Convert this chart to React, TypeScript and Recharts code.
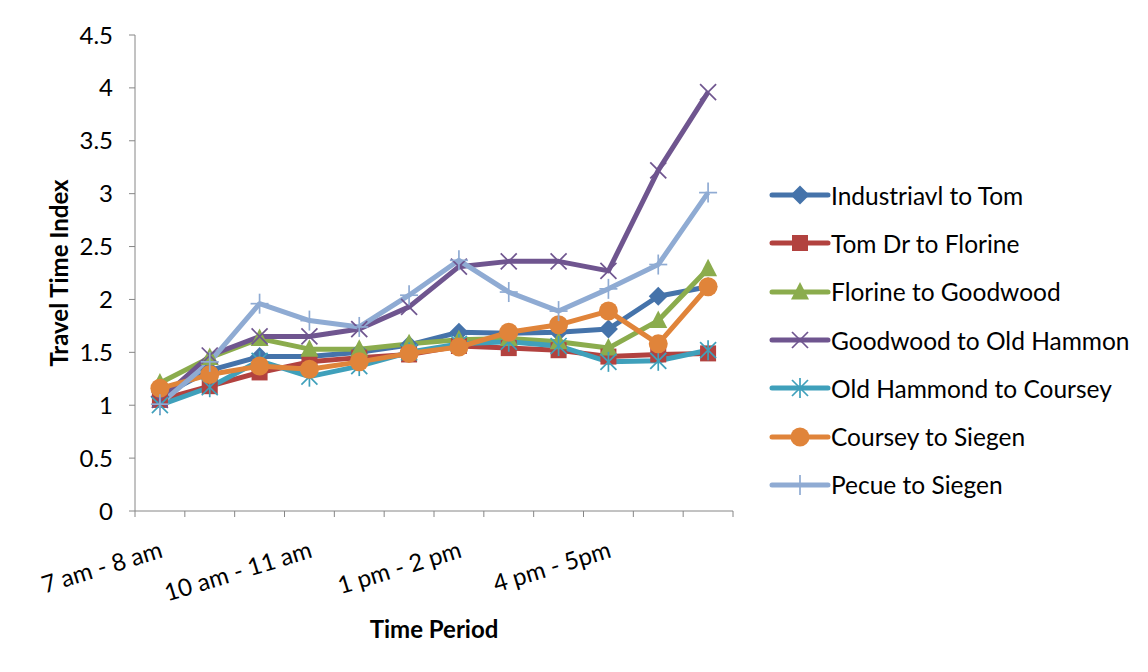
import React from "react";
import { LineChart, Line, XAxis, YAxis, Legend, Label } from "recharts";

// Data
const periods = [
  "7 am - 8 am",
  "8 am - 9 am",
  "9 am - 10 am",
  "10 am - 11 am",
  "11 am - 12 pm",
  "12 pm - 1 pm",
  "1 pm - 2 pm",
  "2 pm - 3 pm",
  "3 pm - 4 pm",
  "4 pm - 5pm",
  "5 pm - 6 pm",
  "6 pm - 7 pm",
];

const industriavlToTom = [1.08, 1.33, 1.46, 1.46, 1.5, 1.57, 1.69, 1.68, 1.69, 1.72, 2.03, 2.12];
const tomDrToFlorine = [1.05, 1.18, 1.31, 1.41, 1.45, 1.48, 1.56, 1.54, 1.52, 1.46, 1.48, 1.49];
const florineToGoodwood = [1.21, 1.45, 1.63, 1.53, 1.53, 1.58, 1.62, 1.63, 1.6, 1.54, 1.8, 2.29];
const goodwoodToOldHammon = [1.05, 1.47, 1.65, 1.65, 1.72, 1.93, 2.31, 2.36, 2.36, 2.27, 3.22, 3.96];
const oldHammondToCoursey = [1.0, 1.17, 1.42, 1.27, 1.37, 1.5, 1.58, 1.6, 1.56, 1.41, 1.42, 1.52];
const courseyToSiegen = [1.16, 1.29, 1.37, 1.34, 1.41, 1.49, 1.55, 1.69, 1.76, 1.89, 1.58, 2.12];
const pecueToSiegen = [1.01, 1.41, 1.96, 1.8, 1.74, 2.04, 2.37, 2.07, 1.89, 2.1, 2.33, 3.01];

const yTicks = [0, 0.5, 1, 1.5, 2, 2.5, 3, 3.5, 4, 4.5];

type Shape = "diamond" | "square" | "triangle" | "x" | "star" | "circle" | "plus";

const SERIES: { key: string; name: string; color: string; shape: Shape; values: number[] }[] = [
  { key: "s1", name: "Industriavl to Tom", color: "#4573AA", shape: "diamond", values: industriavlToTom },
  { key: "s2", name: "Tom Dr to Florine", color: "#B2423F", shape: "square", values: tomDrToFlorine },
  { key: "s3", name: "Florine to Goodwood", color: "#8BAC4D", shape: "triangle", values: florineToGoodwood },
  { key: "s4", name: "Goodwood to Old Hammon", color: "#6F558F", shape: "x", values: goodwoodToOldHammon },
  { key: "s5", name: "Old Hammond to Coursey", color: "#3FA0BB", shape: "star", values: oldHammondToCoursey },
  { key: "s6", name: "Coursey to Siegen", color: "#E0843A", shape: "circle", values: courseyToSiegen },
  { key: "s7", name: "Pecue to Siegen", color: "#8FABD3", shape: "plus", values: pecueToSiegen },
];

const data = periods.map((period, i) => {
  const row: Record<string, string | number> = { period };
  SERIES.forEach((s) => (row[s.key] = s.values[i]));
  return row;
});

const FONT = "Lato, 'Open Sans', sans-serif";
const AXIS_GREY = "#868686";
const CHART_W = 1132;
const CHART_H = 656;
const MARGIN = { top: 27, right: 407, bottom: 23, left: 0 };
const Y_AXIS_W = 127;
const BAND = (CHART_W - MARGIN.right - MARGIN.left - Y_AXIS_W) / periods.length;

const Marker = ({ shape, color, cx, cy }: { shape: Shape; color: string; cx: number; cy: number }) => {
  const h = 8;
  switch (shape) {
    case "diamond":
      return <polygon points={`${cx},${cy - 9.5} ${cx + 9.5},${cy} ${cx},${cy + 9.5} ${cx - 9.5},${cy}`} fill={color} />;
    case "square":
      return <rect x={cx - 8} y={cy - 8} width={16} height={16} fill={color} />;
    case "triangle":
      return <polygon points={`${cx},${cy - 10} ${cx + 9},${cy + 7.5} ${cx - 9},${cy + 7.5}`} fill={color} />;
    case "circle":
      return <circle cx={cx} cy={cy} r={9.5} fill={color} />;
    case "x":
      return (
        <g stroke={color} strokeWidth={1.7}>
          <line x1={cx - h} y1={cy - h} x2={cx + h} y2={cy + h} />
          <line x1={cx - h} y1={cy + h} x2={cx + h} y2={cy - h} />
        </g>
      );
    case "star":
      return (
        <g stroke={color} strokeWidth={1.7}>
          <line x1={cx - h} y1={cy - h} x2={cx + h} y2={cy + h} />
          <line x1={cx - h} y1={cy + h} x2={cx + h} y2={cy - h} />
          <line x1={cx} y1={cy - 10} x2={cx} y2={cy + 10} />
        </g>
      );
    case "plus":
    default:
      return (
        <g stroke={color} strokeWidth={1.7}>
          <line x1={cx - 9} y1={cy} x2={cx + 9} y2={cy} />
          <line x1={cx} y1={cy - 10} x2={cx} y2={cy + 10} />
        </g>
      );
  }
};

const TimeTick = (props: any) => {
  const { x, y, payload } = props;
  const idx = payload?.index ?? props.index ?? 0;
  const half = BAND / 2;
  const tx = x + 4;
  const ty = y + 46;
  return (
    <g>
      <line x1={x - half} x2={x - half} y1={y} y2={y + 6} stroke={AXIS_GREY} />
      {idx === periods.length - 1 && (
        <line x1={x + half} x2={x + half} y1={y} y2={y + 6} stroke={AXIS_GREY} />
      )}
      {idx % 3 === 0 && (
        <text
          x={tx}
          y={ty}
          transform={`rotate(-17, ${tx}, ${ty})`}
          textAnchor="end"
          fill="#000"
          fontSize={24}
          fontFamily={FONT}
        >
          {payload.value}
        </text>
      )}
    </g>
  );
};

const YTitle = (props: any) => {
  const vb = props.viewBox || { x: 0, y: 0, height: 0 };
  const cx = vb.x + 50;
  const cy = vb.y + vb.height / 2;
  return (
    <text
      x={cx}
      y={cy}
      transform={`rotate(-90, ${cx}, ${cy})`}
      textAnchor="middle"
      dominantBaseline="central"
      fontFamily={FONT}
      fontWeight="bold"
      fontSize={24}
      fill="#000"
    >
      Travel Time Index
    </text>
  );
};

const LegendList = (props: any) => {
  const payload: any[] = props.payload || [];
  const entries = SERIES.filter((s) => payload.some((p) => p.dataKey === s.key));
  return (
    <div style={{ fontFamily: FONT, fontSize: 24.5, color: "#000" }}>
      {entries.map((s) => (
        <div key={s.key} style={{ display: "flex", alignItems: "center", height: 48.3 }}>
          <svg width={62} height={24} style={{ flex: "none" }}>
            <line x1={3} x2={59} y1={12} y2={12} stroke={s.color} strokeWidth={5} strokeLinecap="round" />
            <Marker shape={s.shape} color={s.color} cx={31} cy={12} />
          </svg>
          <span style={{ whiteSpace: "nowrap" }}>{s.name}</span>
        </div>
      ))}
    </div>
  );
};

export default function App() {
  return (
    <div
      style={{
        marginLeft: -1,
        marginTop: -1,
        borderLeft: "1px solid #8a8a8a",
        borderTop: "1px solid #8a8a8a",
        width: CHART_W,
        height: CHART_H,
        background: "#fff",
      }}
    >
      <LineChart width={CHART_W} height={CHART_H} data={data} margin={MARGIN}>
        <XAxis
          dataKey="period"
          scale="band"
          interval={0}
          height={130}
          tickLine={false}
          tickSize={0}
          tickMargin={0}
          tick={<TimeTick />}
          axisLine={{ stroke: AXIS_GREY }}
        >
          <Label
            value="Time Period"
            position="insideBottom"
            offset={3}
            fontFamily={FONT}
            fontWeight="bold"
            fontSize={24}
            fill="#000"
          />
        </XAxis>
        <YAxis
          width={Y_AXIS_W}
          domain={[0, 4.5]}
          ticks={yTicks}
          interval={0}
          tickSize={6}
          tickMargin={16}
          tick={{ fill: "#000", fontSize: 24, fontFamily: FONT }}
          tickLine={{ stroke: AXIS_GREY }}
          axisLine={{ stroke: AXIS_GREY }}
        >
          <Label content={<YTitle />} />
        </YAxis>
        <Legend
          layout="horizontal"
          align="center"
          verticalAlign="middle"
          content={<LegendList />}
          wrapperStyle={{ left: 761, top: 163, width: 371, height: 340 }}
        />
        {SERIES.map((s) => (
          <Line
            key={s.key}
            dataKey={s.key}
            name={s.name}
            stroke={s.color}
            strokeWidth={5}
            strokeLinejoin="round"
            isAnimationActive={false}
            activeDot={false}
            dot={(p: any) => (
              <Marker key={`${s.key}-${p.index}`} shape={s.shape} color={s.color} cx={p.cx} cy={p.cy} />
            )}
          />
        ))}
      </LineChart>
    </div>
  );
}
